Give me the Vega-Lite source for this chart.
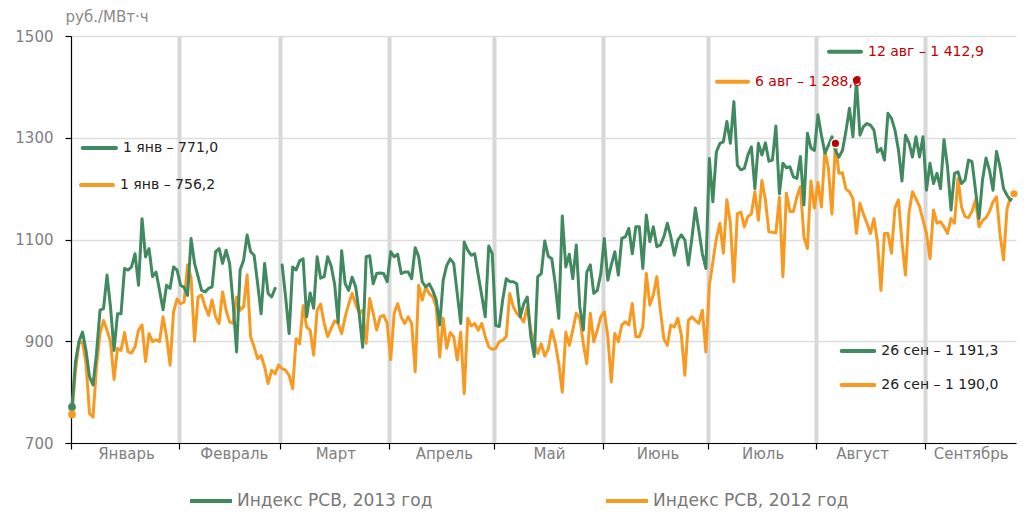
{
"$schema": "https://vega.github.io/schema/vega-lite/v6.json",
"width": 945, "height": 407,
"autosize": {"type": "none"},
"padding": {"left": 71, "top": 36, "right": 11, "bottom": 76},
"background": "white",
"config": {"view": {"stroke": null}, "font": "DejaVu Sans"},
"layer": [
{
"data": {"values": [
{"date":"2012-01-01","y2013":771.0,"y2012":756.2},{"date":"2012-01-02","y2013":860,"y2012":843},{"date":"2012-01-03","y2013":900,"y2012":896},{"date":"2012-01-04","y2013":918,"y2012":899},{"date":"2012-01-05","y2013":882,"y2012":856},{"date":"2012-01-06","y2013":830,"y2012":758},{"date":"2012-01-07","y2013":814,"y2012":751},{"date":"2012-01-08","y2013":876,"y2012":850},{"date":"2012-01-09","y2013":961,"y2012":915},{"date":"2012-01-10","y2013":964,"y2012":941},{"date":"2012-01-11","y2013":1030,"y2012":922},{"date":"2012-01-12","y2013":967,"y2012":899},{"date":"2012-01-13","y2013":882,"y2012":825},{"date":"2012-01-14","y2013":954,"y2012":886},{"date":"2012-01-15","y2013":954,"y2012":882},{"date":"2012-01-16","y2013":1043,"y2012":917},{"date":"2012-01-17","y2013":1040,"y2012":879},{"date":"2012-01-18","y2013":1046,"y2012":877},{"date":"2012-01-19","y2013":1072,"y2012":889},{"date":"2012-01-20","y2013":1010,"y2012":922},{"date":"2012-01-21","y2013":1141,"y2012":932},{"date":"2012-01-22","y2013":1066,"y2012":860},{"date":"2012-01-23","y2013":1082,"y2012":915},{"date":"2012-01-24","y2013":1027,"y2012":899},{"date":"2012-01-25","y2013":1036,"y2012":903},{"date":"2012-01-26","y2013":1000,"y2012":899},{"date":"2012-01-27","y2013":962,"y2012":948},{"date":"2012-01-28","y2013":1010,"y2012":909},{"date":"2012-01-29","y2013":1004,"y2012":853},{"date":"2012-01-30","y2013":1046,"y2012":958},{"date":"2012-01-31","y2013":1040,"y2012":983},
{"date":"2012-02-01","y2013":1010,"y2012":974},{"date":"2012-02-02","y2013":1006,"y2012":977},{"date":"2012-02-03","y2013":990,"y2012":1050},{"date":"2012-02-04","y2013":1102,"y2012":1025},{"date":"2012-02-05","y2013":1053,"y2012":900},{"date":"2012-02-06","y2013":1027,"y2012":987},{"date":"2012-02-07","y2013":1000,"y2012":991},{"date":"2012-02-08","y2013":997,"y2012":968},{"date":"2012-02-09","y2013":1004,"y2012":951},{"date":"2012-02-10","y2013":1007,"y2012":981},{"date":"2012-02-11","y2013":1076,"y2012":948},{"date":"2012-02-12","y2013":1082,"y2012":935},{"date":"2012-02-13","y2013":1053,"y2012":997},{"date":"2012-02-14","y2013":1079,"y2012":961},{"date":"2012-02-15","y2013":1053,"y2012":938},{"date":"2012-02-16","y2013":975,"y2012":935},{"date":"2012-02-17","y2013":879,"y2012":987},{"date":"2012-02-18","y2013":1040,"y2012":961},{"date":"2012-02-19","y2013":1059,"y2012":968},{"date":"2012-02-20","y2013":1109,"y2012":1030},{"date":"2012-02-21","y2013":1076,"y2012":909},{"date":"2012-02-22","y2013":1069,"y2012":889},{"date":"2012-02-23","y2013":1014,"y2012":866},{"date":"2012-02-24","y2013":954,"y2012":872},{"date":"2012-02-25","y2013":1053,"y2012":850},{"date":"2012-02-26","y2013":994,"y2012":817},{"date":"2012-02-27","y2013":987,"y2012":843},{"date":"2012-02-28","y2013":1004,"y2012":836},{"date":"2012-02-29","y2013":null,"y2012":853},
{"date":"2012-03-01","y2013":1050,"y2012":846},{"date":"2012-03-02","y2013":987,"y2012":843},{"date":"2012-03-03","y2013":915,"y2012":833},{"date":"2012-03-04","y2013":1046,"y2012":807},{"date":"2012-03-05","y2013":1040,"y2012":905},{"date":"2012-03-06","y2013":1058,"y2012":895},{"date":"2012-03-07","y2013":1062,"y2012":970},{"date":"2012-03-08","y2013":948,"y2012":928},{"date":"2012-03-09","y2013":995,"y2012":922},{"date":"2012-03-10","y2013":965,"y2012":873},{"date":"2012-03-11","y2013":1066,"y2012":961},{"date":"2012-03-12","y2013":1024,"y2012":973},{"date":"2012-03-13","y2013":1027,"y2012":935},{"date":"2012-03-14","y2013":1066,"y2012":909},{"date":"2012-03-15","y2013":1048,"y2012":925},{"date":"2012-03-16","y2013":1012,"y2012":940},{"date":"2012-03-17","y2013":937,"y2012":935},{"date":"2012-03-18","y2013":1078,"y2012":915},{"date":"2012-03-19","y2013":1013,"y2012":948},{"date":"2012-03-20","y2013":1000,"y2012":973},{"date":"2012-03-21","y2013":1026,"y2012":994},{"date":"2012-03-22","y2013":1007,"y2012":973},{"date":"2012-03-23","y2013":955,"y2012":956},{"date":"2012-03-24","y2013":888,"y2012":961},{"date":"2012-03-25","y2013":1066,"y2012":896},{"date":"2012-03-26","y2013":1068,"y2012":984},{"date":"2012-03-27","y2013":1013,"y2012":955},{"date":"2012-03-28","y2013":1033,"y2012":922},{"date":"2012-03-29","y2013":1034,"y2012":948},{"date":"2012-03-30","y2013":1033,"y2012":951},{"date":"2012-03-31","y2013":1017,"y2012":935},
{"date":"2012-04-01","y2013":1076,"y2012":864},{"date":"2012-04-02","y2013":1066,"y2012":955},{"date":"2012-04-03","y2013":1071,"y2012":974},{"date":"2012-04-04","y2013":1033,"y2012":948},{"date":"2012-04-05","y2013":1036,"y2012":935},{"date":"2012-04-06","y2013":1036,"y2012":948},{"date":"2012-04-07","y2013":1023,"y2012":935},{"date":"2012-04-08","y2013":1084,"y2012":840},{"date":"2012-04-09","y2013":1066,"y2012":1010},{"date":"2012-04-10","y2013":1017,"y2012":981},{"date":"2012-04-11","y2013":1007,"y2012":1006},{"date":"2012-04-12","y2013":1013,"y2012":994},{"date":"2012-04-13","y2013":1000,"y2012":987},{"date":"2012-04-14","y2013":981,"y2012":968},{"date":"2012-04-15","y2013":932,"y2012":869},{"date":"2012-04-16","y2013":1020,"y2012":945},{"date":"2012-04-17","y2013":1049,"y2012":886},{"date":"2012-04-18","y2013":1062,"y2012":917},{"date":"2012-04-19","y2013":1053,"y2012":909},{"date":"2012-04-20","y2013":994,"y2012":863},{"date":"2012-04-21","y2013":935,"y2012":918},{"date":"2012-04-22","y2013":1095,"y2012":797},{"date":"2012-04-23","y2013":1079,"y2012":945},{"date":"2012-04-24","y2013":1069,"y2012":930},{"date":"2012-04-25","y2013":1072,"y2012":935},{"date":"2012-04-26","y2013":1030,"y2012":922},{"date":"2012-04-27","y2013":990,"y2012":935},{"date":"2012-04-28","y2013":948,"y2012":909},{"date":"2012-04-29","y2013":1087,"y2012":889},{"date":"2012-04-30","y2013":1072,"y2012":884},
{"date":"2012-05-01","y2013":931,"y2012":886},{"date":"2012-05-02","y2013":929,"y2012":899},{"date":"2012-05-03","y2013":982,"y2012":902},{"date":"2012-05-04","y2013":1023,"y2012":909},{"date":"2012-05-05","y2013":1017,"y2012":994},{"date":"2012-05-06","y2013":1017,"y2012":968},{"date":"2012-05-07","y2013":1013,"y2012":955},{"date":"2012-05-08","y2013":948,"y2012":948},{"date":"2012-05-09","y2013":974,"y2012":938},{"date":"2012-05-10","y2013":987,"y2012":968},{"date":"2012-05-11","y2013":910,"y2012":922},{"date":"2012-05-12","y2013":870,"y2012":896},{"date":"2012-05-13","y2013":1027,"y2012":876},{"date":"2012-05-14","y2013":1033,"y2012":895},{"date":"2012-05-15","y2013":1097,"y2012":871},{"date":"2012-05-16","y2013":1067,"y2012":885},{"date":"2012-05-17","y2013":1062,"y2012":922},{"date":"2012-05-18","y2013":1013,"y2012":896},{"date":"2012-05-19","y2013":945,"y2012":856},{"date":"2012-05-20","y2013":1146,"y2012":800},{"date":"2012-05-21","y2013":1046,"y2012":918},{"date":"2012-05-22","y2013":1071,"y2012":892},{"date":"2012-05-23","y2013":1023,"y2012":922},{"date":"2012-05-24","y2013":1089,"y2012":955},{"date":"2012-05-25","y2013":968,"y2012":945},{"date":"2012-05-26","y2013":922,"y2012":896},{"date":"2012-05-27","y2013":1036,"y2012":856},{"date":"2012-05-28","y2013":1050,"y2012":955},{"date":"2012-05-29","y2013":994,"y2012":899},{"date":"2012-05-30","y2013":1000,"y2012":922},{"date":"2012-05-31","y2013":1033,"y2012":948},
{"date":"2012-06-01","y2013":1102,"y2012":958},{"date":"2012-06-02","y2013":1020,"y2012":909},{"date":"2012-06-03","y2013":1050,"y2012":820},{"date":"2012-06-04","y2013":1076,"y2012":915},{"date":"2012-06-05","y2013":1030,"y2012":899},{"date":"2012-06-06","y2013":1102,"y2012":932},{"date":"2012-06-07","y2013":1105,"y2012":938},{"date":"2012-06-08","y2013":1122,"y2012":932},{"date":"2012-06-09","y2013":1072,"y2012":974},{"date":"2012-06-10","y2013":1125,"y2012":909},{"date":"2012-06-11","y2013":1125,"y2012":909},{"date":"2012-06-12","y2013":1043,"y2012":928},{"date":"2012-06-13","y2013":1148,"y2012":1033},{"date":"2012-06-14","y2013":1096,"y2012":971},{"date":"2012-06-15","y2013":1125,"y2012":991},{"date":"2012-06-16","y2013":1086,"y2012":1027},{"date":"2012-06-17","y2013":1089,"y2012":961},{"date":"2012-06-18","y2013":1105,"y2012":905},{"date":"2012-06-19","y2013":1132,"y2012":892},{"date":"2012-06-20","y2013":1105,"y2012":932},{"date":"2012-06-21","y2013":1069,"y2012":928},{"date":"2012-06-22","y2013":1099,"y2012":945},{"date":"2012-06-23","y2013":1109,"y2012":912},{"date":"2012-06-24","y2013":1099,"y2012":833},{"date":"2012-06-25","y2013":1050,"y2012":941},{"date":"2012-06-26","y2013":1102,"y2012":948},{"date":"2012-06-27","y2013":1162,"y2012":941},{"date":"2012-06-28","y2013":1118,"y2012":935},{"date":"2012-06-29","y2013":1072,"y2012":961},{"date":"2012-06-30","y2013":1043,"y2012":879},
{"date":"2012-07-01","y2013":1259,"y2012":1010},{"date":"2012-07-02","y2013":1174,"y2012":1056},{"date":"2012-07-03","y2013":1272,"y2012":1102},{"date":"2012-07-04","y2013":1289,"y2012":1132},{"date":"2012-07-05","y2013":1292,"y2012":1073},{"date":"2012-07-06","y2013":1332,"y2012":1178},{"date":"2012-07-07","y2013":1289,"y2012":1132},{"date":"2012-07-08","y2013":1371,"y2012":1017},{"date":"2012-07-09","y2013":1246,"y2012":1151},{"date":"2012-07-10","y2013":1237,"y2012":1154},{"date":"2012-07-11","y2013":1240,"y2012":1125},{"date":"2012-07-12","y2013":1266,"y2012":1145},{"date":"2012-07-13","y2013":1282,"y2012":1150},{"date":"2012-07-14","y2013":1200,"y2012":1194},{"date":"2012-07-15","y2013":1289,"y2012":1138},{"date":"2012-07-16","y2013":1266,"y2012":1216},{"date":"2012-07-17","y2013":1290,"y2012":1178},{"date":"2012-07-18","y2013":1254,"y2012":1115},{"date":"2012-07-19","y2013":1256,"y2012":1114},{"date":"2012-07-20","y2013":1323,"y2012":1113},{"date":"2012-07-21","y2013":1190,"y2012":1183},{"date":"2012-07-22","y2013":1250,"y2012":1027},{"date":"2012-07-23","y2013":1241,"y2012":1191},{"date":"2012-07-24","y2013":1243,"y2012":1155},{"date":"2012-07-25","y2013":1223,"y2012":1155},{"date":"2012-07-26","y2013":1220,"y2012":1184},{"date":"2012-07-27","y2013":1263,"y2012":1204},{"date":"2012-07-28","y2013":1168,"y2012":1105},{"date":"2012-07-29","y2013":1309,"y2012":1082},{"date":"2012-07-30","y2013":1280,"y2012":1215},{"date":"2012-07-31","y2013":1275,"y2012":1162},
{"date":"2012-08-01","y2013":1345,"y2012":1212},{"date":"2012-08-02","y2013":1305,"y2012":1164},{"date":"2012-08-03","y2013":1270,"y2012":1275},{"date":"2012-08-04","y2013":1285,"y2012":1240},{"date":"2012-08-05","y2013":1302,"y2012":1150},{"date":"2012-08-06","y2013":1275,"y2012":1288.8},{"date":"2012-08-07","y2013":1262,"y2012":1230},{"date":"2012-08-08","y2013":1275,"y2012":1231},{"date":"2012-08-09","y2013":1313,"y2012":1199},{"date":"2012-08-10","y2013":1358,"y2012":1194},{"date":"2012-08-11","y2013":1302,"y2012":1180},{"date":"2012-08-12","y2013":1412.9,"y2012":1112},{"date":"2012-08-13","y2013":1305,"y2012":1171},{"date":"2012-08-14","y2013":1322,"y2012":1150},{"date":"2012-08-15","y2013":1328,"y2012":1132},{"date":"2012-08-16","y2013":1325,"y2012":1112},{"date":"2012-08-17","y2013":1315,"y2012":1141},{"date":"2012-08-18","y2013":1272,"y2012":1095},{"date":"2012-08-19","y2013":1279,"y2012":1000},{"date":"2012-08-20","y2013":1256,"y2012":1112},{"date":"2012-08-21","y2013":1348,"y2012":1112},{"date":"2012-08-22","y2013":1338,"y2012":1073},{"date":"2012-08-23","y2013":1315,"y2012":1162},{"date":"2012-08-24","y2013":1276,"y2012":1178},{"date":"2012-08-25","y2013":1215,"y2012":1095},{"date":"2012-08-26","y2013":1305,"y2012":1030},{"date":"2012-08-27","y2013":1290,"y2012":1153},{"date":"2012-08-28","y2013":1262,"y2012":1194},{"date":"2012-08-29","y2013":1302,"y2012":1180},{"date":"2012-08-30","y2013":1262,"y2012":1165},{"date":"2012-08-31","y2013":1302,"y2012":1138},
{"date":"2012-09-01","y2013":1197,"y2012":1112},{"date":"2012-09-02","y2013":1250,"y2012":1062},{"date":"2012-09-03","y2013":1210,"y2012":1158},{"date":"2012-09-04","y2013":1230,"y2012":1132},{"date":"2012-09-05","y2013":1200,"y2012":1135},{"date":"2012-09-06","y2013":1296,"y2012":1125},{"date":"2012-09-07","y2013":1243,"y2012":1112},{"date":"2012-09-08","y2013":1158,"y2012":1141},{"date":"2012-09-09","y2013":1230,"y2012":1132},{"date":"2012-09-10","y2013":1233,"y2012":1220},{"date":"2012-09-11","y2013":1210,"y2012":1164},{"date":"2012-09-12","y2013":1217,"y2012":1145},{"date":"2012-09-13","y2013":1256,"y2012":1143},{"date":"2012-09-14","y2013":1253,"y2012":1155},{"date":"2012-09-15","y2013":1197,"y2012":1178},{"date":"2012-09-16","y2013":1141,"y2012":1125},{"date":"2012-09-17","y2013":1217,"y2012":1137},{"date":"2012-09-18","y2013":1260,"y2012":1143},{"date":"2012-09-19","y2013":1236,"y2012":1155},{"date":"2012-09-20","y2013":1197,"y2012":1174},{"date":"2012-09-21","y2013":1273,"y2012":1184},{"date":"2012-09-22","y2013":1243,"y2012":1110},{"date":"2012-09-23","y2013":1200,"y2012":1060},{"date":"2012-09-24","y2013":1187,"y2012":1160},{"date":"2012-09-25","y2013":1177,"y2012":1184},{"date":"2012-09-26","y2013":1191.3,"y2012":1190.0}
]},
"transform": [{"fold": ["y2012", "y2013"], "as": ["series", "value"]}],
"mark": {"type": "line", "strokeWidth": 3, "strokeJoin": "round", "strokeCap": "round", "invalid": "break-paths-show-domains"},
"encoding": {
"x": {"field": "date", "type": "temporal",
 "scale": {"type": "utc", "nice": false, "domain": [{"year": 2011, "month": 12, "date": 31, "hours": 17, "minutes": 9, "utc": true}, {"year": 2012, "month": 9, "date": 26, "hours": 13, "minutes": 27, "utc": true}]},
 "axis": {
  "values": [{"year": 2011, "month": 12, "date": 31, "hours": 17, "minutes": 9, "utc": true}, {"year": 2012, "month": 1, "date": 31, "hours": 12, "utc": true}, {"year": 2012, "month": 2, "date": 29, "hours": 12, "utc": true}, {"year": 2012, "month": 3, "date": 31, "hours": 12, "utc": true}, {"year": 2012, "month": 4, "date": 30, "hours": 12, "utc": true}, {"year": 2012, "month": 5, "date": 31, "hours": 12, "utc": true}, {"year": 2012, "month": 6, "date": 30, "hours": 12, "utc": true}, {"year": 2012, "month": 7, "date": 31, "hours": 12, "utc": true}, {"year": 2012, "month": 8, "date": 31, "hours": 12, "utc": true}],
  "grid": true, "gridWidth": 4,
  "gridColor": {"condition": {"test": "utcmonth(datum.value) == 11", "value": "rgba(0,0,0,0)"}, "value": "#d7d7d7"},
  "domainColor": "#000000", "domainWidth": 1.2, "tickColor": "#000000", "tickSize": 6, "tickWidth": 1.2,
  "labelExpr": "['Январь','Февраль','Март','Апрель','Май','Июнь','Июль','Август','Сентябрь','Октябрь','Ноябрь','Декабрь'][utcmonth(datum.value + 86400000)]",
  "labelOffset": {"condition": {"test": "utcmonth(datum.value) == 6 || utcmonth(datum.value) == 7", "value": 46}, "value": 55},
  "labelAlign": "center", "labelBaseline": "alphabetic", "labelPadding": 9,
  "labelColor": "#808080", "labelFont": "DejaVu Sans", "labelFontSize": 15,
  "labelFlush": false, "labelOverlap": false, "labelBound": false, "title": null}},
"y": {"field": "value", "type": "quantitative",
 "scale": {"domain": [700, 1500], "nice": false, "zero": false},
 "axis": {"values": [700, 900, 1100, 1300, 1500], "format": "d", "grid": true, "gridColor": "#dddddd", "gridWidth": 1.5,
  "domainColor": "#000000", "domainWidth": 1.2, "tickColor": "#000000", "tickSize": 6, "tickWidth": 1.2,
  "labelColor": "#808080", "labelFont": "DejaVu Sans", "labelFontSize": 15, "labelPadding": 12,
  "title": "руб./МВт·ч", "titleAngle": 0, "titleAlign": "left", "titleBaseline": "alphabetic", "titleX": -6, "titleY": -15,
  "titleColor": "#8a8a8a", "titleFont": "DejaVu Sans", "titleFontSize": 15, "titleFontWeight": "normal"}},
"color": {"field": "series", "type": "nominal",
 "scale": {"domain": ["y2013", "y2012"], "range": ["#41895f", "#f89a22"]},
 "legend": {"orient": "none", "legendX": 117, "legendY": 442, "direction": "horizontal", "title": null,
  "symbolType": "stroke", "symbolSize": 1764, "symbolStrokeWidth": 4,
  "labelFont": "DejaVu Sans", "labelFontSize": 17, "labelColor": "#777777", "labelOffset": 3, "labelLimit": 400,
  "columnPadding": 165, "padding": 0,
  "labelExpr": "datum.label == 'y2013' ? 'Индекс РСВ, 2013 год' : 'Индекс РСВ, 2012 год'"}}
}
},
{
"data": {"values": [
{"date":"2012-01-01","value":771.0,"series":"y2013"},
{"date":"2012-01-01","value":756.2,"series":"y2012"}
]},
"mark": {"type": "point", "filled": true, "size": 60, "opacity": 1},
"encoding": {
"x": {"field": "date", "type": "temporal", "scale": {"type": "utc"}},
"y": {"field": "value", "type": "quantitative"},
"color": {"field": "series", "type": "nominal", "legend": null}
}
},
{
"data": {"values": [
{"date":"2012-09-26","value":1191.3,"series":"y2013"},
{"date":"2012-09-26","value":1190.0,"series":"y2012"}
]},
"mark": {"type": "point", "filled": true, "size": 75, "opacity": 1, "stroke": "white", "strokeWidth": 1.5},
"encoding": {
"x": {"field": "date", "type": "temporal", "scale": {"type": "utc"}},
"y": {"field": "value", "type": "quantitative"},
"color": {"field": "series", "type": "nominal", "legend": null}
}
},
{
"data": {"values": [
{"date":"2012-08-12","value":1412.9,"series":"y2013"},
{"date":"2012-08-06","value":1288.8,"series":"y2012"}
]},
"mark": {"type": "point", "filled": true, "size": 75, "opacity": 1, "fill": "#c00000", "stroke": "white", "strokeWidth": 1.5},
"encoding": {
"x": {"field": "date", "type": "temporal", "scale": {"type": "utc"}},
"y": {"field": "value", "type": "quantitative"}
}
},
{
"data": {"values": [
{"date":"2012-01-04T01:26:00Z","date2":"2012-01-13T13:26:00Z","value":1280,"series":"y2013","t":"1 янв – 771,0","k":"first"},
{"date":"2012-01-03T13:41:00Z","date2":"2012-01-12T17:02:00Z","value":1207,"series":"y2012","t":"1 янв – 756,2","k":"first"},
{"date":"2012-08-04T03:50:00Z","date2":"2012-08-13T07:12:00Z","value":1469,"series":"y2013","t":"12 авг – 1 412,9","k":"max"},
{"date":"2012-07-03T04:48:00Z","date2":"2012-07-12T00:43:00Z","value":1410,"series":"y2012","t":"6 авг – 1 288,8","k":"max"},
{"date":"2012-08-07T19:00:00Z","date2":"2012-08-17T02:24:00Z","value":881,"series":"y2013","t":"26 сен – 1 191,3","k":"last"},
{"date":"2012-08-07T19:00:00Z","date2":"2012-08-17T02:24:00Z","value":814,"series":"y2012","t":"26 сен – 1 190,0","k":"last"}
]},
"layer": [
{
"mark": {"type": "rule", "strokeWidth": 4, "strokeCap": "round"},
"encoding": {
"x": {"field": "date", "type": "temporal", "scale": {"type": "utc"}},
"x2": {"field": "date2"},
"y": {"field": "value", "type": "quantitative"},
"color": {"field": "series", "type": "nominal", "legend": null}
}
},
{
"mark": {"type": "text", "align": "left", "baseline": "middle", "dx": 7, "font": "DejaVu Sans", "fontSize": 14},
"encoding": {
"x": {"field": "date2", "type": "temporal", "scale": {"type": "utc"}},
"y": {"field": "value", "type": "quantitative"},
"text": {"field": "t"},
"color": {"condition": {"test": "datum.k == 'max'", "value": "#c00000"}, "value": "#222222"}
}
}
]
}
]
}
